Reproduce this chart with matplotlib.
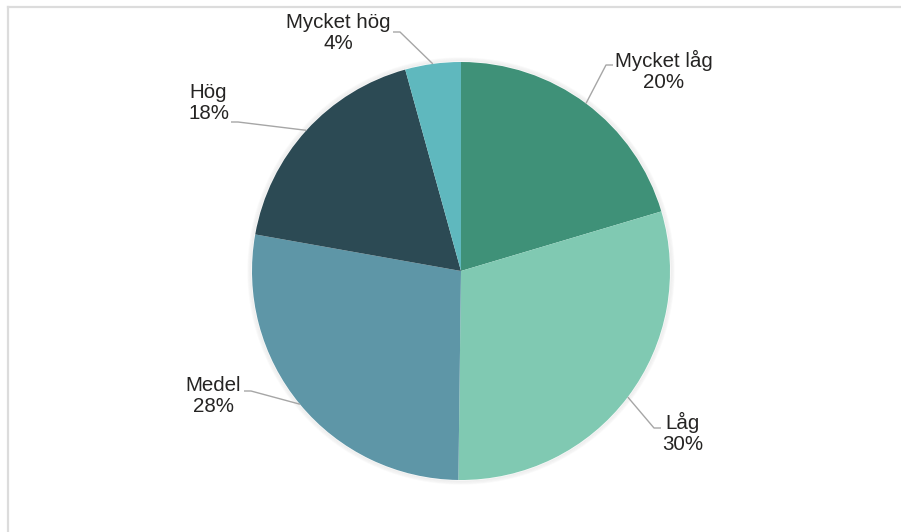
import matplotlib.pyplot as plt
from matplotlib.lines import Line2D
from matplotlib.patches import Circle
import numpy as np

plt.rcParams['font.family'] = ['Liberation Sans', 'DejaVu Sans']

# data, clockwise from 12 o'clock
categories = ['Mycket låg', 'Låg', 'Medel', 'Hög', 'Mycket hög']
shares = [20.4, 29.8, 27.6, 17.9, 4.3]
colors = ['#3f9178', '#80c9b2', '#5e96a7', '#2c4a54', '#5fb8be']

# label layout in pixels: elbow of leader, text anchor, alignment
label_layout = [
    ((606, 65), (615, 71), 'left'),
    ((654, 428), (662, 433), 'left'),
    ((251, 391), (241, 396), 'right'),
    ((238, 122), (229, 103), 'right'),
    ((400, 32), (391, 33), 'right'),
]

W, H = 901, 532
fig = plt.figure(figsize=(W / 100, H / 100), dpi=100)
ax = fig.add_axes([0, 0, 1, 1])

center = (461, 271)
radius = 209

# soft shadow around the pie
for k in range(4):
    ax.add_patch(Circle(center, radius + 1 + k, facecolor='none',
                        edgecolor='black', lw=1.0, alpha=0.05 - 0.01 * k))

# y axis is inverted, so counterclock in data = clockwise on screen
wedges, _ = ax.pie(shares, colors=colors, startangle=-90, counterclock=True,
                   center=center, radius=radius, frame=True,
                   wedgeprops=dict(linewidth=0))
ax.set_xlim(0, W)
ax.set_ylim(H, 0)
ax.set_aspect('equal')
ax.axis('off')

for w, name, val, (elbow, txt, ha) in zip(wedges, categories, shares, label_layout):
    mid = np.deg2rad((w.theta1 + w.theta2) / 2)
    ex = center[0] + radius * np.cos(mid)
    ey = center[1] + radius * np.sin(mid)
    end_x = elbow[0] + (7 if ha == 'left' else -7)
    ax.plot([ex, elbow[0], end_x], [ey, elbow[1], elbow[1]],
            color='#a6a6a6', lw=1.0, solid_capstyle='butt')
    ax.text(txt[0], txt[1], f'{name}\n{round(val):.0f}%', ha=ha, va='center',
            multialignment='center', fontsize=14.8, color='#252423',
            linespacing=1.15)

# light frame on top and left
fig.add_artist(Line2D([7.5 / W, 1], [1 - 6.5 / H, 1 - 6.5 / H],
                      color='#dcdcdc', lw=1.6))
fig.add_artist(Line2D([7.5 / W, 7.5 / W], [0, 1 - 6.5 / H],
                      color='#dcdcdc', lw=1.6))

fig.savefig('out.png', dpi=100, facecolor='white')
